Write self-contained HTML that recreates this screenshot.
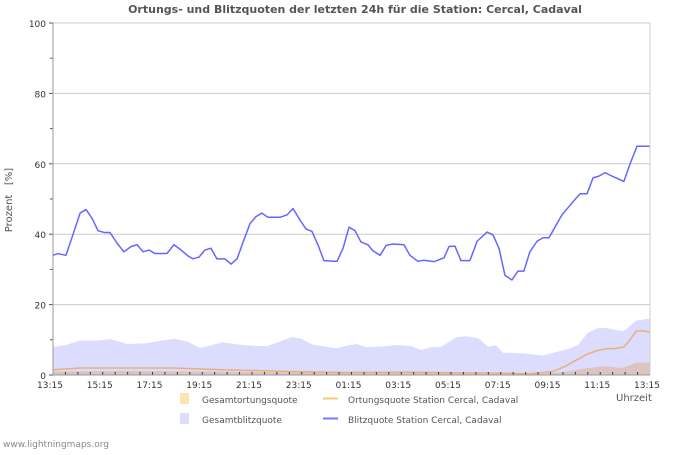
<!DOCTYPE html>
<html><head><meta charset="utf-8"><style>
body{margin:0;background:#fff;font-family:"Liberation Sans","DejaVu Sans",sans-serif;}
svg text{font-family:"DejaVu Sans","Liberation Sans",sans-serif;}
</style></head><body>
<svg id="chart" width="700" height="450" xmlns="http://www.w3.org/2000/svg">
<text x="355" y="13" text-anchor="middle" font-size="11" font-weight="bold" fill="#555">Ortungs- und Blitzquoten der letzten 24h für die Station: Cercal, Cadaval</text>
<g id="grid"></g>
<g id="series"></g>
<g id="axes"></g>
<text transform="translate(12,200) rotate(-90)" text-anchor="middle" font-size="10" fill="#555" style="white-space:pre" xml:space="preserve">Prozent   [%]</text>
<text x="616" y="401" font-size="10" fill="#555">Uhrzeit</text>
<rect x="180" y="393" width="9" height="11" fill="#fde4b0"/>
<text x="202" y="403" font-size="9" fill="#555">Gesamtortungsquote</text>
<rect x="180" y="413" width="9" height="11" fill="#dcdcff"/>
<text x="202" y="423" font-size="9" fill="#555">Gesamtblitzquote</text>
<line x1="323" y1="398.5" x2="338" y2="398.5" stroke="#f8c878" stroke-width="2"/>
<text x="348" y="403" font-size="9" fill="#555">Ortungsquote Station Cercal, Cadaval</text>
<line x1="323" y1="418.5" x2="338" y2="418.5" stroke="#7777ff" stroke-width="2"/>
<text x="348" y="423" font-size="9" fill="#555">Blitzquote Station Cercal, Cadaval</text>
<text x="3" y="447" font-size="9" fill="#888">www.lightningmaps.org</text>
</svg>
<script>
// time in hours since 13:15
const blitzT=[0,0.2,0.52,0.76,1.09,1.33,1.57,1.81,2.05,2.29,2.57,2.85,3.14,3.38,3.62,3.86,4.1,4.58,4.86,5.15,5.43,5.63,5.87,6.11,6.35,6.59,6.91,7.16,7.4,7.68,7.92,8.16,8.4,8.64,9.13,9.41,9.65,9.93,10.17,10.41,10.65,10.89,11.26,11.42,11.66,11.9,12.14,12.38,12.66,12.86,13.15,13.39,13.63,14.11,14.35,14.67,14.91,15.32,15.72,15.92,16.16,16.4,16.76,17.05,17.45,17.69,17.93,18.17,18.45,18.69,18.93,19.17,19.46,19.7,19.94,20.18,20.46,20.7,20.94,21.19,21.47,21.71,21.95,22.19,22.47,22.95,23.2,23.48,24];
const blitzV=[34,34.5,34,39,46,47,44.5,41,40.5,40.5,37.5,35,36.5,37,35,35.5,34.5,34.5,37,35.5,33.8,33,33.5,35.5,36,33,33,31.5,33,38.5,43,45,46,44.8,44.8,45.5,47.3,44,41.5,40.8,37,32.5,32.3,32.3,36,42,41,37.8,37,35.3,34,36.8,37.2,37,34,32.3,32.6,32.2,33.3,36.5,36.6,32.5,32.5,38,40.6,39.8,36,28.3,27,29.5,29.5,35,38,39,39,42,45.5,47.5,49.5,51.5,51.5,56,56.5,57.5,56.5,55,60,65,65];
const gesBlitzT=[0,0.5,1.1,1.8,2.3,3.0,3.7,4.3,4.9,5.4,5.9,6.3,6.8,7.4,8.0,8.6,9.2,9.6,10.0,10.4,11.0,11.4,11.8,12.2,12.6,13.2,13.8,14.4,14.8,15.2,15.6,16.2,16.6,17.1,17.5,17.8,18.1,18.5,19.1,19.7,20.1,20.7,21.1,21.5,21.9,22.3,22.6,22.95,23.45,24];
const gesBlitzV=[8,8.5,9.8,9.8,10.2,8.8,9,9.7,10.3,9.5,7.7,8.3,9.3,8.7,8.3,8.2,9.7,10.8,10.3,8.7,8,7.6,8.3,8.8,7.9,8.1,8.5,8.2,7.1,7.9,8.0,10.7,11,10.4,8,8.4,6.3,6.3,6,5.5,6.3,7.4,8.5,12,13.3,13.3,12.8,12.5,15.5,16];
const ortT=[0,1.1,3.0,4.8,6.8,9.5,11.8,14.0,16.5,18.3,19.1,20.1,20.6,21.1,21.5,21.9,22.3,22.6,22.95,23.2,23.45,23.8,24];
const ortV=[1.5,2,2,2,1.5,1,0.7,0.8,0.6,0.5,0.3,1,2.5,4.5,6,7,7.5,7.5,8,10,12.5,12.5,12];
const gesOrtT=[0,3,6,9,12,15,17.5,19.5,20.5,21.5,22.2,22.9,23.45,24];
const gesOrtV=[1,1.2,1,0.8,0.6,0.6,0.3,0.3,0.8,2,2.5,2,3.5,3.5];
const yTicks=[0,20,40,60,80,100];
const xLabels=["13:15","15:15","17:15","19:15","21:15","23:15","01:15","03:15","05:15","07:15","09:15","11:15","13:15"];

const X0=53,X1=650,Y0=375,Y1=23,TMAX=24;
const xs=t=>X0+Math.min(t,TMAX)/TMAX*(X1-X0);
const ys=v=>Y0-v/100*(Y0-Y1);
const NS="http://www.w3.org/2000/svg";
function mk(tag,attrs,parent){const e=document.createElementNS(NS,tag);for(const k in attrs)e.setAttribute(k,attrs[k]);parent.appendChild(e);return e;}
const grid=document.getElementById('grid'),series=document.getElementById('series'),axes=document.getElementById('axes');
yTicks.forEach(v=>{
  if(v>0){const l=mk('line',{x1:X0,x2:X1,y1:ys(v),y2:ys(v),stroke:'#ccc','stroke-width':1},grid);
  
  }
  const t=mk('text',{x:X0-7,y:ys(v)+4,'text-anchor':'end','font-size':9,fill:'#333'},axes);t.textContent=v;
  
  
  mk('line',{x1:X0-4,x2:X0,y1:ys(v),y2:ys(v),stroke:'#555'},axes);
  if(v<100)mk('line',{x1:X0-3,x2:X0,y1:ys(v+10),y2:ys(v+10),stroke:'#555'},axes);
});
xLabels.forEach((s,i)=>{
  const t=mk('text',{x:xs(i*2)-3,y:388,'text-anchor':'middle','font-size':9,fill:'#333'},axes);t.textContent=s;
  
  
});
for(let h=0;h<=24;h+=0.5){mk('line',{x1:xs(h),x2:xs(h),y1:Y0,y2:Y0-3,stroke:'#333'},axes);}
function area(T,V,fill,name){
  let d=`M${xs(T[0])},${Y0}`;T.forEach((t,i)=>d+=`L${xs(t)},${ys(V[i])}`);d+=`L${xs(T[T.length-1])},${Y0}Z`;
  const p=mk('path',{d,fill},series);
  
  
}
function line(T,V,stroke,name){
  const d=T.map((t,i)=>(i?'L':'M')+xs(t)+','+ys(V[i])).join('');
  const p=mk('path',{d,fill:'none',stroke,'stroke-width':1.5,'stroke-linejoin':'round'},series);
  
  
}
area(gesBlitzT,gesBlitzV,'#dcdcff','gesamtblitzquote-area');
area(gesOrtT,gesOrtV,'#dcc4c0','gesamtortungsquote-area');
line(ortT,ortV,'#e8b078','ortungsquote-line');
line(blitzT,blitzV,'#6666ff','blitzquote-line');
mk('line',{x1:X0,x2:X0,y1:Y1,y2:Y0,stroke:'#999'},axes);
mk('line',{x1:X1,x2:X1,y1:Y1,y2:Y0,stroke:'#ccc'},axes);
mk('line',{x1:X0,x2:X1,y1:Y0,y2:Y0,stroke:'#999'},axes);
</script>
</body></html>
